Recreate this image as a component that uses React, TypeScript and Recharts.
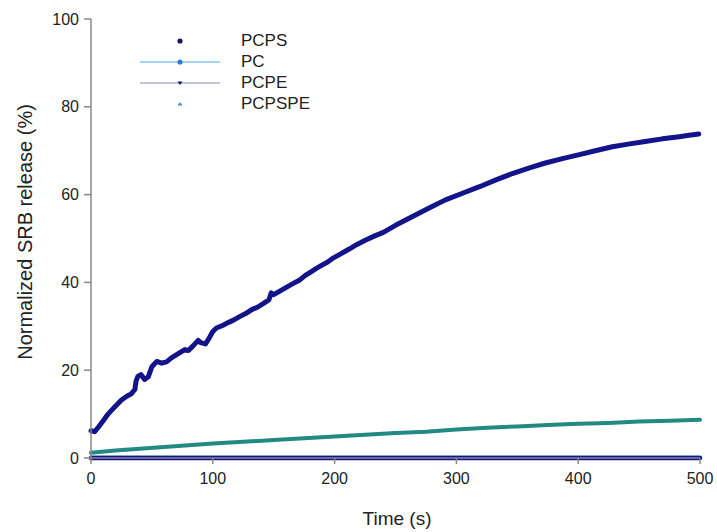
import React from 'react';
import { LineChart, Line, XAxis, YAxis, Legend } from 'recharts';

// PCPS
const pcpsTime = [
  0, 3, 6, 10, 14, 17, 20, 25, 30, 33, 36, 37, 38.5, 41, 44, 47, 50, 54, 58, 62,
  66, 70, 74, 77, 80, 84, 88, 90, 94, 97, 100, 103, 108, 113, 117, 122, 127, 132,
  137, 142, 146, 148, 150, 155, 160, 165, 171, 176, 180, 185, 190, 194, 198, 205,
  212, 218, 226, 233, 240, 250, 264, 278, 291, 305, 319, 333, 346, 360, 373, 387,
  401, 414, 428, 441, 455, 469, 483, 491, 499
];
const pcpsValue = [
  6.2, 6.0, 7.0, 8.5, 10.0, 10.9, 11.8, 13.2, 14.2, 14.6, 15.6, 17.5, 18.6, 19.0, 17.9, 18.5, 20.8, 22.0, 21.6, 21.9,
  22.8, 23.5, 24.2, 24.7, 24.5, 25.6, 26.8, 26.3, 26.0, 27.3, 28.8, 29.6, 30.2, 30.9, 31.4, 32.2, 32.9, 33.8,
  34.4, 35.3, 36.0, 37.6, 37.2, 38.0, 38.8, 39.6, 40.5, 41.6, 42.3, 43.2, 44.0, 44.6, 45.4, 46.5,
  47.6, 48.6, 49.7, 50.6, 51.4, 53.0, 55.0, 57.0, 58.8, 60.3, 61.8, 63.4, 64.8, 66.1, 67.2, 68.2,
  69.1, 70.0, 70.9, 71.5, 72.1, 72.7, 73.2, 73.5, 73.8
];

// PCPSPE – teal trace
const pcpspeTime = [0, 20, 40, 60, 80, 100, 125, 150, 175, 200, 225, 250, 275, 300, 325, 350, 375, 400, 425, 450, 475, 500];
const pcpspeValue = [1.2, 1.7, 2.1, 2.5, 2.9, 3.3, 3.7, 4.1, 4.5, 4.9, 5.3, 5.7, 6.0, 6.5, 6.9, 7.2, 7.5, 7.8, 8.0, 8.3, 8.5, 8.7];

// PC and PCPE sit on the baseline
const flatTime = [0, 100, 200, 300, 400, 500];
const pcValue = [0.35, 0.35, 0.35, 0.35, 0.35, 0.35];
const pcpeValue = [0, 0, 0, 0, 0, 0];

const xTicks = [0, 100, 200, 300, 400, 500];
const yTicks = [0, 20, 40, 60, 80, 100];

const toRows = (t: number[], v: number[]) => t.map((x, i) => ({ t: x, y: v[i] }));

const NAVY = '#14148a';
const TEAL = '#238a82';
const AXIS = '#888888';
const FONT = '"Liberation Sans", Arial, sans-serif';

// legend order
const series = [
  { name: 'PCPS', data: toRows(pcpsTime, pcpsValue), color: NAVY, width: 5, line: null, marker: 'circle', markerColor: '#15155e' },
  { name: 'PC', data: toRows(flatTime, pcValue), color: '#a6d3f2', width: 3, line: '#a6d3f2', marker: 'circle', markerColor: '#2b7fd0' },
  { name: 'PCPE', data: toRows(flatTime, pcpeValue), color: NAVY, width: 4.5, line: '#c2c2dc', marker: 'down', markerColor: '#15155e' },
  { name: 'PCPSPE', data: toRows(pcpspeTime, pcpspeValue), color: TEAL, width: 4, line: null, marker: 'up', markerColor: '#3a9aa0' }
];

// draw order: baseline series first, PCPS on top
const drawOrder = ['PC', 'PCPE', 'PCPSPE', 'PCPS'];

const renderLegend = () => (
  <div style={{ position: 'relative', width: 220, height: 90, fontFamily: FONT, fontSize: 17, color: '#222' }}>
    {series.map((s, i) => {
      const cy = 21 * i + 10;
      return (
        <div key={s.name} style={{ position: 'absolute', left: 0, top: cy - 10, height: 20, width: 220 }}>
          <svg width={90} height={20} style={{ position: 'absolute', left: 0, top: 0 }}>
            {s.line && <line x1={0} y1={10} x2={80} y2={10} stroke={s.line} strokeWidth={2} />}
            {s.marker === 'circle' && <circle cx={40} cy={10} r={2.6} fill={s.markerColor} />}
            {s.marker === 'down' && <path d="M37.5,8.5 L42.5,8.5 L40,12 Z" fill={s.markerColor} />}
            {s.marker === 'up' && <path d="M37.5,11.5 L42.5,11.5 L40,8 Z" fill={s.markerColor} />}
          </svg>
          <span style={{ position: 'absolute', left: 101, top: 0, lineHeight: '20px' }}>{s.name}</span>
        </div>
      );
    })}
  </div>
);

const yTitle = () => (
  <text
    x={25}
    y={232}
    transform="rotate(-90 25 232)"
    textAnchor="middle"
    dominantBaseline="central"
    fontFamily={FONT}
    fontSize={20}
    fill="#222"
  >
    Normalized SRB release (%)
  </text>
);

const xTitle = () => (
  <text x={397} y={518} textAnchor="middle" dominantBaseline="central" fontFamily={FONT} fontSize={19} fill="#222">
    Time (s)
  </text>
);

export default function App() {
  return (
    <div style={{ position: 'absolute', left: 0, top: 0, width: 717, height: 532, background: '#fff' }}>
      <LineChart width={717} height={532} margin={{ top: 19, right: 17, left: 31, bottom: 44 }}>
        <XAxis
          type="number"
          dataKey="t"
          domain={[0, 500]}
          ticks={xTicks}
          height={30}
          stroke={AXIS}
          strokeWidth={1.5}
          tickSize={6}
          tickMargin={9}
          tick={{ fill: '#222', fontSize: 16, fontFamily: FONT }}
          label={xTitle}
        />
        <YAxis
          type="number"
          dataKey="y"
          domain={[0, 100]}
          ticks={yTicks}
          width={60}
          stroke={AXIS}
          strokeWidth={1.5}
          tickSize={7}
          tickMargin={5}
          tick={{ fill: '#222', fontSize: 16, fontFamily: FONT }}
          label={yTitle}
        />
        <Legend
          layout="vertical"
          align="center"
          verticalAlign="middle"
          content={renderLegend}
          wrapperStyle={{ left: 140, top: 31, width: 220 }}
        />
        {drawOrder.map((n) => {
          const s = series.find((d) => d.name === n)!;
          return (
            <Line
              key={s.name}
              name={s.name}
              data={s.data}
              dataKey="y"
              type="linear"
              stroke={s.color}
              strokeWidth={s.width}
              strokeLinejoin="round"
              strokeLinecap="round"
              dot={false}
              activeDot={false}
              isAnimationActive={false}
            />
          );
        })}
      </LineChart>
    </div>
  );
}
